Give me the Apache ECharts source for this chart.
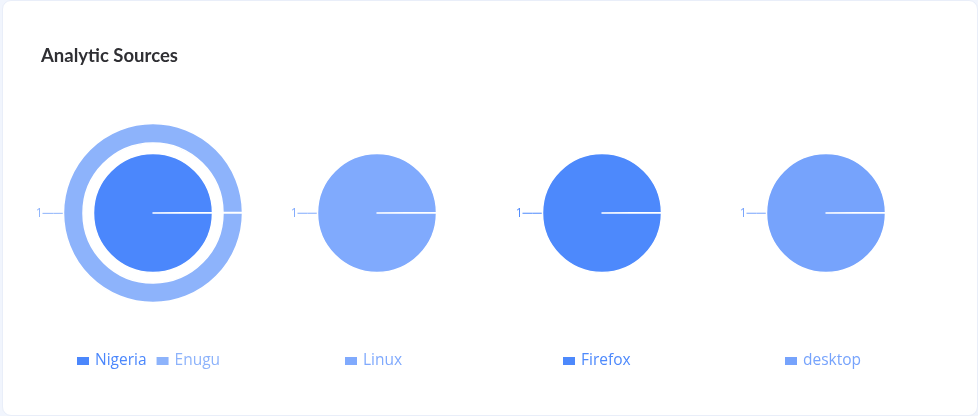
<!DOCTYPE html>
<html>
<head>
<meta charset="utf-8">
<script src="https://cdn.jsdelivr.net/npm/echarts@6/dist/echarts.min.js"></script>
<style>
html,body{margin:0;padding:0;width:978px;height:416px;overflow:hidden;background:#f1f5fd;}
#card{position:absolute;left:2px;top:0;width:974px;height:414px;background:#fff;border:1px solid #e9eef9;border-radius:9px;}
#chart{position:absolute;left:0;top:0;width:978px;height:416px;}
</style>
</head>
<body>
<div id="card"></div>
<div id="chart"></div>
<script>
const title = 'Analytic Sources';
const innerNames = ['Nigeria'];
const innerValues = [1];
const outerNames = ['Enugu'];
const outerValues = [1];
const linuxNames = ['Linux'];
const linuxValues = [1];
const firefoxNames = ['Firefox'];
const firefoxValues = [1];
const desktopNames = ['desktop'];
const desktopValues = [1];

const colors = {
  Nigeria: '#4b87fc',
  Enugu: '#8db3fb',
  Linux: '#80aafd',
  Firefox: '#4d89fc',
  desktop: '#76a3fc'
};

const TITLE_FONT = 'Lato, "Noto Sans", sans-serif';
const FONT = '"Open Sans", "Noto Sans", sans-serif';

function toData(names, values) {
  return names.map((n, i) => ({ name: n, value: values[i] }));
}

function pie(name, names, values, center, radius, len, len2) {
  return {
    name: name,
    type: 'pie',
    center: center,
    radius: radius,
    startAngle: 0,
    endAngle: -359.6,
    silent: true,
    color: names.map(n => colors[n]),
    itemStyle: { color: colors[names[0]], borderColor: '#ffffff', borderWidth: 1.5 },
    label: {
      show: true,
      formatter: '{c}',
      fontSize: 12,
      fontFamily: FONT,
      color: 'inherit',
      distanceToLabelLine: 0
    },
    labelLine: { show: true, length: len, length2: len2, lineStyle: { width: 1 } },
    data: toData(names, values)
  };
}

function legend(names, left) {
  return {
    data: names,
    left: left,
    top: 348,
    itemWidth: 14,
    itemHeight: 10,
    itemGap: 8,
    icon: 'rect',
    textStyle: { fontSize: 15.5, fontFamily: FONT, color: 'inherit' },
    selectedMode: false
  };
}

const chart = echarts.init(document.getElementById('chart'), null, { renderer: 'canvas' });
chart.setOption({
  backgroundColor: 'transparent',
  animation: false,
  title: {
    text: title,
    left: 36,
    top: 42,
    textStyle: { fontSize: 18.5, fontWeight: 'bold', color: '#2f2f33', fontFamily: TITLE_FONT }
  },
  legend: [
    legend(innerNames.concat(outerNames), 70),
    legend(linuxNames, 338),
    legend(firefoxNames, 556),
    legend(desktopNames, 778)
  ],
  series: [
    pie('Nigeria', innerNames, innerValues, [153, 213], [0, 59.5], 30, 19),
    pie('Enugu', outerNames, outerValues, [153, 213], [70, 89.5], 10, 11),
    pie('Linux', linuxNames, linuxValues, [377, 213], [0, 59.5], 10, 10),
    pie('Firefox', firefoxNames, firefoxValues, [602, 213], [0, 59.5], 10, 10),
    pie('desktop', desktopNames, desktopValues, [826, 213], [0, 59.5], 10, 10)
  ]
});
</script>
</body>
</html>
